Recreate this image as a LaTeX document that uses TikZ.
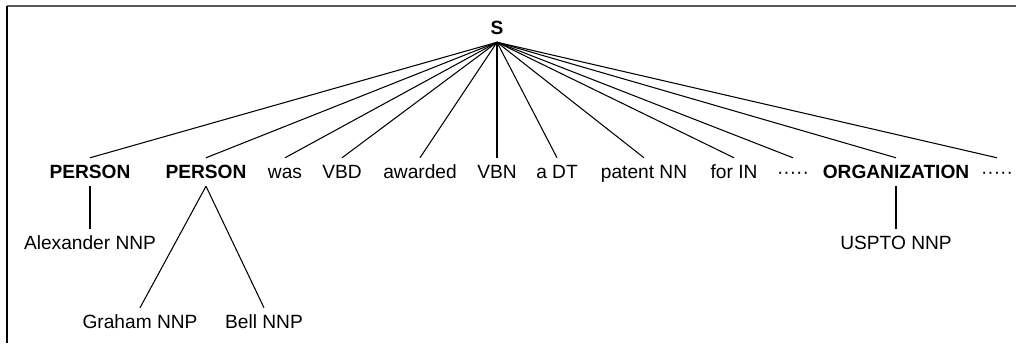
\documentclass[tikz,border=0pt]{standalone}
\usepackage{fontspec}
\setmainfont{Liberation Sans}
\usepackage{tikz}

\begin{document}
\begin{tikzpicture}[x=0.02cm, y=-0.02cm, font=\fontsize{10.9}{13}\selectfont,
    lbl/.style={inner xsep=1pt, inner ysep=4pt, text height=7.8pt, text depth=0pt},
    tag/.style={lbl, font=\fontsize{10.9}{13}\selectfont\bfseries},
    edge/.style={line width=0.6pt}]
            % frame
            \useasboundingbox (0,0) rectangle (1016,343);
            \coordinate (tl) at (7,5.8);
            \coordinate (tr) at (1016,5.8);
            \coordinate (bl) at (7,343);
            \draw[line width=1.2pt, black!65] (tl) -- (tr);
            \draw[line width=1.2pt] (tl) -- (bl);

            % root
            \node[tag] (root) at (497,28) {S};

            % first level
            \node[tag] (per1)    at (90,172)  {PERSON};
            \node[tag] (per2)    at (206,172) {PERSON};
            \node[lbl] (was)     at (285,172) {was};
            \node[lbl] (vbd)     at (342,172) {VBD};
            \node[lbl] (awarded) at (420,172) {awarded};
            \node[lbl] (vbn)     at (497,172) {VBN};
            \node[lbl] (adt)     at (557,172) {a DT};
            \node[lbl] (patent)  at (644,172) {patent NN};
            \node[lbl] (forin)   at (734,172) {for IN};
            \node[lbl] (dots1)   at (793,172) {·····};
            \node[tag] (org)     at (896,172) {ORGANIZATION};
            \node[lbl] (dots2)   at (997,172) {·····};

            % leaves
            \node[lbl] (alex)   at (90,243)  {Alexander NNP};
            \node[lbl] (uspto)  at (896,243) {USPTO NNP};
            \node[lbl] (graham) at (140,322) {Graham NNP};
            \node[lbl] (bell)   at (264,322) {Bell NNP};

            % edges
            \foreach \n in {per1,per2,was,vbd,awarded,vbn,adt,patent,forin,dots1,org,dots2}
                \draw[edge] (root.south) -- (\n.north);
            \draw[edge] (per1.south) -- (alex.north);
            \draw[edge] (per2.south) -- (graham.north);
            \draw[edge] (per2.south) -- (bell.north);
            \draw[edge] (org.south) -- (uspto.north);
        \end{tikzpicture}
\end{document}
